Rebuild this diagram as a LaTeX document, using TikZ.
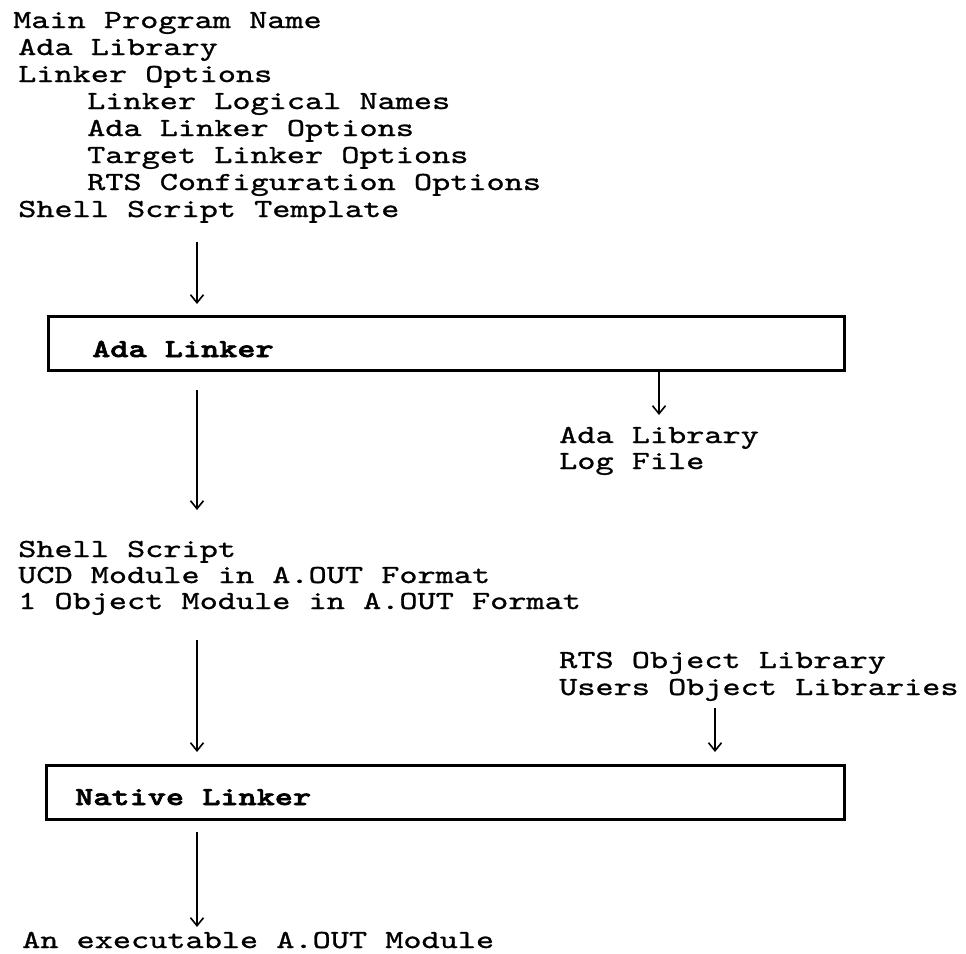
\documentclass[tikz,border=0pt]{standalone}
\usepackage{fontspec}
\newfontfamily\listfont{lmmono10-regular.otf}[FakeStretch=1.33,FakeBold=1]
\newfontfamily\stagefont{lmmonolt10-bold.otf}[FakeStretch=1.33,FakeBold=2.5]
\usetikzlibrary{arrows.meta}
\tikzset{
  listing/.style={
    % The placing:
    anchor=base west,
    inner sep=0pt,
    % The text:
    font=\listfont\fontsize{26}{27}\selectfont},
  stage/.style={
    % The shape:
    rectangle,
    anchor=north west,
    % The size:
    minimum width=#1,
    minimum height=54pt,
    % The border:
    draw=black,
    line width=2.6pt},
  stagename/.style={
    anchor=base west,
    inner sep=0pt,
    font=\stagefont\fontsize{26}{27}\selectfont},
  tip/.style={-{Straight Barb[length=8pt,width=13pt,line width=1.6pt]},
    line width=1.6pt}
}

\begin{document}
\begin{tikzpicture}[x=1pt,y=-1pt]
  \useasboundingbox (0,0) rectangle (966,953);

  % input of the Ada linker
  \foreach \dx/\txt [count=\i] in {13/Main Program Name, 18/Ada Library,
      18/Linker Options, 87/Linker Logical Names, 87/Ada Linker Options,
      87/Target Linker Options, 87/RTS Configuration Options,
      18/Shell Script Template}
    \node[listing] (in\i) at (\dx,{28+27*(\i-1)}) {\txt};

  \node[stage=796pt] (adabox) at (47,315) {};
  \node[stagename]   (adaname) at (92,357) {Ada Linker};

  \node[listing] (log1) at (559,443) {Ada Library};
  \node[listing] (log2) at (559,469) {Log File};

  % output of the Ada linker
  \node[listing] (out1) at (18,557) {Shell Script};
  \node[listing] (out2) at (18,583) {UCD Module in A.OUT Format};
  \node[listing] (out3) at (18,609) {1 Object Module in A.OUT Format};

  \node[listing] (lib1) at (559,668) {RTS Object Library};
  \node[listing] (lib2) at (559,695) {Users Object Libraries};

  \node[stage=798pt] (natbox) at (45,764) {};
  \node[stagename]   (natname) at (75,805) {Native Linker};

  \node[listing] (exe) at (22,948) {An executable A.OUT Module};

  % the arrows
  \coordinate (p1) at (197,242);
  \coordinate (p2) at (197,390);
  \coordinate (p3) at (659,415);
  \coordinate (p4) at (197,510);
  \coordinate (p5) at (197,640);
  \coordinate (p6) at (715,708);
  \coordinate (p7) at (197,832);
  \coordinate (p8) at (197,927);

  \draw[tip,shorten >=11pt] (p1) -- (p1 |- adabox.north);
  \draw[tip] (adabox.south -| p3) -- (p3);
  \draw[tip] (p2) -- (p4);
  \draw[tip,shorten >=12pt] (p5) -- (p5 |- natbox.north);
  \draw[tip,shorten >=12pt] (p6) -- (p6 |- natbox.north);
  \draw[tip] (p7) -- (p8);
\end{tikzpicture}
\end{document}
